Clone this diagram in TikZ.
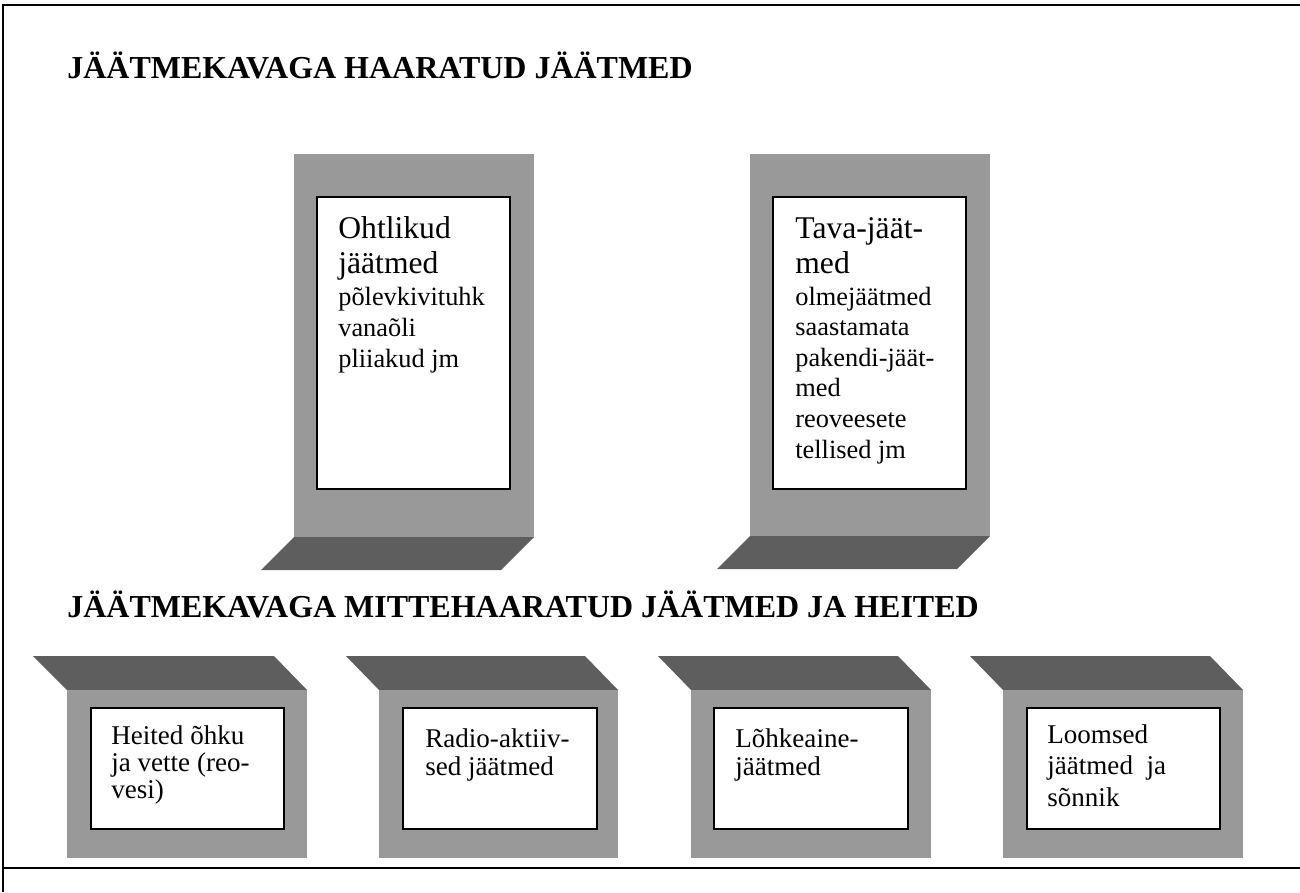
\documentclass[tikz,border=0pt]{standalone}
\usepackage{fontspec}
\setmainfont{Liberation Serif}
\definecolor{slab}{gray}{0.6}
\definecolor{slabdark}{gray}{0.37}

\begin{document}
\begin{tikzpicture}[x=0.02cm, y=-0.02cm,
    txt/.style={anchor=base west, inner sep=0pt, align=left},
    heading/.style={txt, font=\fontsize{18.2}{21}\bfseries\selectfont},
    bigtext/.style={txt, font=\fontsize{18}{19.9}\selectfont},
    smalltext/.style={txt, font=\fontsize{15}{17.4}\selectfont},
    frame/.style={line width=1.1pt}]

   \useasboundingbox (0,0) rectangle (1300,892);

   % outer lines
   \draw[frame] (1300,5) -- (3,5) -- (3,892);
   \draw[frame] (3,868) -- (1300,868);

   \node[heading] (plantitle) at (67,78) {JÄÄTMEKAVAGA HAARATUD JÄÄTMED};
   \node[heading] (offtitle) at (67,617) {JÄÄTMEKAVAGA MITTEHAARATUD JÄÄTMED JA HEITED};

   % standing columns
   \fill[slab] (294,154) rectangle (534,537);
   \fill[slabdark] (294,537) -- (534,537) -- (501,570) -- (261,570) -- cycle;
   \draw[frame, fill=white] (317,197) rectangle (510,489);

   \fill[slab] (750,154) rectangle (990,536);
   \fill[slabdark] (750,536) -- (990,536) -- (957,569) -- (717,569) -- cycle;
   \draw[frame, fill=white] (773,197) rectangle (966,489);

   % base anchor = last line
   \node[bigtext] (hazhead) at (338,273) {Ohtlikud\\jäätmed};
   \node[smalltext] (hazlist) at (338,367) {põlevkivituhk\\vanaõli\\pliiakud jm};

   \node[bigtext] (usualhead) at (795,273) {Tava-jäät-\\med};
   \node[smalltext] (usuallist) at (795,458) {olmejäätmed\\saastamata\\pakendi-jäät-\\med\\reoveesete\\tellised jm};

   % low boxes
   \fill[slabdark] (33,656) -- (274,656) -- (307,690) -- (67,690) -- cycle;
   \fill[slab] (67,690) rectangle (307,858);
   \draw[frame, fill=white] (91,708) rectangle (284,829);

   \fill[slabdark] (346,656) -- (585,656) -- (618,690) -- (379,690) -- cycle;
   \fill[slab] (379,690) rectangle (618,858);
   \draw[frame, fill=white] (403,708) rectangle (597,829);

   \fill[slabdark] (658,656) -- (898,656) -- (931,690) -- (691,690) -- cycle;
   \fill[slab] (691,690) rectangle (931,858);
   \draw[frame, fill=white] (714,708) rectangle (908,829);

   \fill[slabdark] (970,656) -- (1210,656) -- (1243,690) -- (1003,690) -- cycle;
   \fill[slab] (1003,690) rectangle (1243,858);
   \draw[frame, fill=white] (1027,708) rectangle (1220,829);

   \node[txt, font=\fontsize{15.4}{15.2}\selectfont] (emission) at (111,798) {Heited õhku\\ja vette (reo-\\vesi)};
   \node[txt, font=\fontsize{15.4}{15.9}\selectfont] (radio) at (425,775) {Radio-aktiiv-\\sed jäätmed};
   \node[txt, font=\fontsize{15.4}{15.9}\selectfont] (explosive) at (735,775) {Lõhkeaine-\\jäätmed};
   \node[txt, font=\fontsize{15.4}{17.9}\selectfont] (manure) at (1047,806) {Loomsed\\jäätmed~ ja\\sõnnik};
\end{tikzpicture}
\end{document}
